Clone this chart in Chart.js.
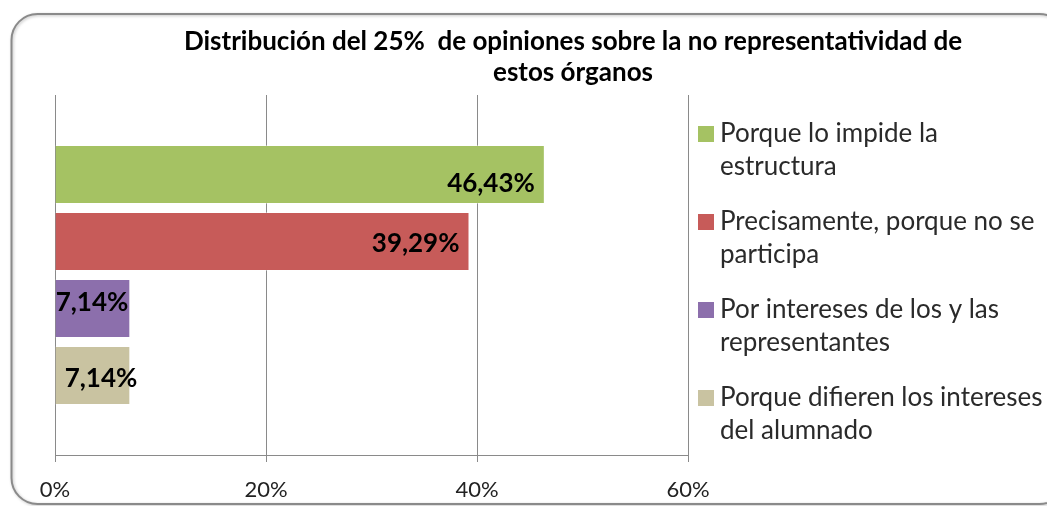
<!DOCTYPE html>
<html>
<head>
<meta charset="utf-8">
<script src="https://cdn.jsdelivr.net/npm/chart.js@4"></script>
<style>
  html, body { margin: 0; padding: 0; background: #fff; overflow: hidden; }
  #wrap { width: 1047px; height: 506px; position: relative; }
</style>
</head>
<body>
<div id="wrap"><canvas id="opinionChart" width="1047" height="506"></canvas></div>
<script>
// Data
const categories = [""];
const seriesNames = [
    "Porque lo impide la estructura",
    "Precisamente, porque no se participa",
    "Por intereses de los y las representantes",
    "Porque difieren los intereses del alumnado"
];
const legendLines = [
    ["Porque lo impide la", "estructura"],
    ["Precisamente, porque no se", "participa"],
    ["Por intereses de los y las", "representantes"],
    ["Porque difieren los intereses", "del alumnado"]
];
const seriesValues = [46.43, 39.29, 7.14, 7.14];
const seriesColors = ["#a5c263", "#c75b59", "#8c6fac", "#c9c3a1"];
const xTicks = [0, 20, 40, 60];
const titleLines = ["Distribución del 25%  de opiniones sobre la no representatividad de", "estos órganos"];

const FONT = "Lato, 'Open Sans', sans-serif";

// frame, title, legend, axis text and value labels drawn around the chart
const decorations = {
    id: "decorations",
    beforeDraw(chart) {
        const c = chart.ctx;
        c.save();
        c.fillStyle = "#fff";
        c.fillRect(0, 0, chart.width, chart.height);
        c.beginPath();
        c.roundRect(11.5, 14, 1054, 490, 26);
        c.shadowColor = "rgba(0,0,0,0.25)";
        c.shadowBlur = 3;
        c.shadowOffsetX = 1;
        c.shadowOffsetY = 1;
        c.strokeStyle = "#8a8a8a";
        c.lineWidth = 2;
        c.stroke();
        c.restore();
    },
    afterDraw(chart, args, opts) {
        const c = chart.ctx;
        c.save();
        // title
        c.fillStyle = "#000";
        c.font = "bold 26px " + FONT;
        c.textAlign = "center";
        c.textBaseline = "middle";
        titleLines.forEach((t, i) => c.fillText(t, 573, 42 + i * 31));

        // x tick labels
        const xs = chart.scales.x;
        c.fillStyle = "#222";
        c.font = "22px " + FONT;
        xs.ticks.forEach(t => c.fillText(t.value + "%", xs.getPixelForValue(t.value), chart.chartArea.bottom + 35));

        // value labels
        c.fillStyle = "#000";
        c.font = "bold 26px " + FONT;
        c.textAlign = "right";
        chart.data.datasets.forEach((ds, i) => {
            const bar = chart.getDatasetMeta(i).data[0];
            const txt = ds.data[0].toFixed(2).replace(".", ",") + "%";
            c.fillText(txt, bar.x + opts.labelShift[i], bar.y + opts.labelDy[i]);
        });

        // legend
        c.font = "26px " + FONT;
        c.textAlign = "left";
        chart.data.datasets.forEach((ds, i) => {
            const y0 = 134 + i * 88;
            c.fillStyle = ds.backgroundColor;
            c.fillRect(698, y0 - 8, 16, 16);
            c.fillStyle = "#2a2a2a";
            legendLines[i].forEach((line, j) => c.fillText(line, 720, y0 + j * 33));
        });
        c.restore();
    }
};

const ctx = document.getElementById("opinionChart").getContext("2d");

const opinionChart = new Chart(ctx, {
    type: "bar",
    data: {
        labels: categories,
        datasets: seriesNames.map((name, i) => ({
            label: name,
            data: [seriesValues[i]],
            backgroundColor: seriesColors[i],
            borderColor: "rgba(255,255,255,0.35)",
            borderWidth: 1,
            categoryPercentage: 0.745,
            barPercentage: 0.88
        }))
    },
    options: {
        indexAxis: "y",
        responsive: false,
        animation: false,
        layout: { padding: { left: 55, right: 359, top: 95, bottom: 44 } },
        scales: {
            x: {
                min: 0,
                max: 60,
                afterBuildTicks(scale) { scale.ticks = xTicks.map(v => ({ value: v })); },
                ticks: { display: false },
                grid: { color: "#8a8a8a", tickLength: 7, lineWidth: 1 },
                border: { color: "#8a8a8a" }
            },
            y: { display: false }
        },
        plugins: {
            legend: { display: false },
            tooltip: { enabled: false },
            decorations: { labelShift: [-10, -10, -2, 7], labelDy: [9, 2, -6, 3] }
        }
    },
    plugins: [decorations]
});
</script>
</body>
</html>
